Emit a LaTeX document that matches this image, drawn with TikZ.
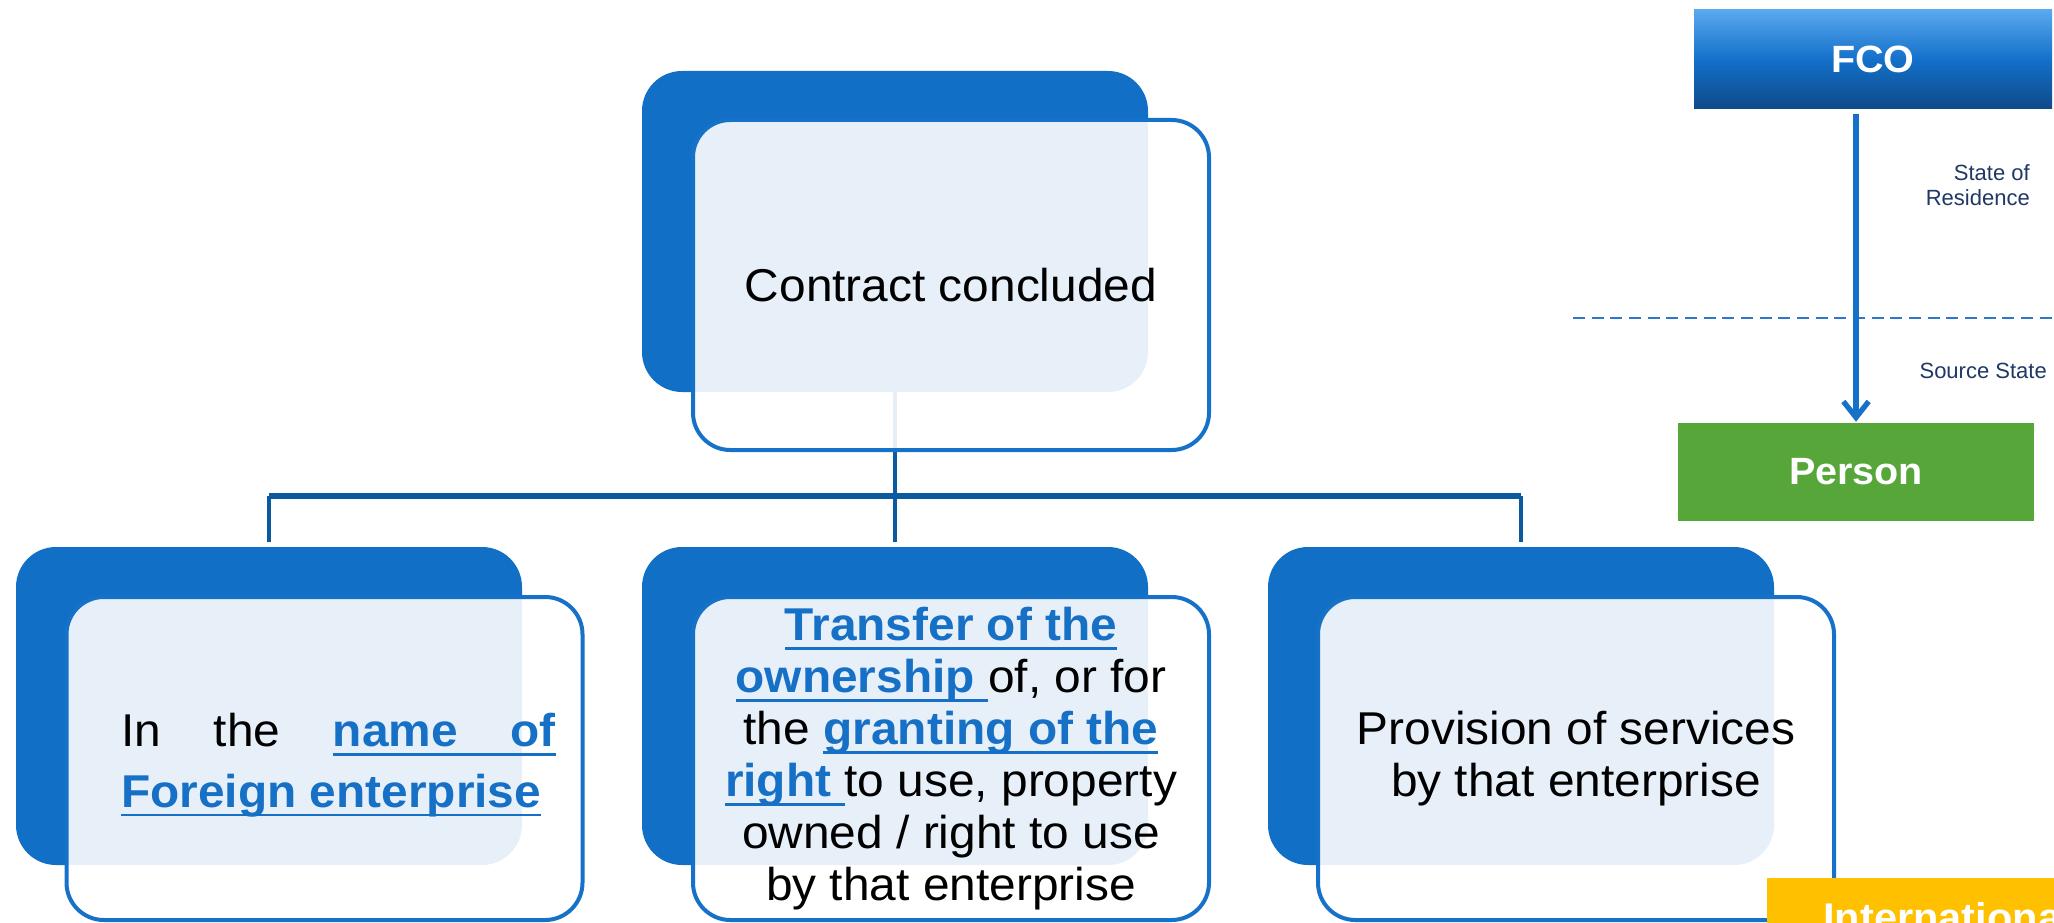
\documentclass[tikz,border=0pt]{standalone}
\usepackage{fontspec}
\setmainfont{Liberation Sans}[FakeStretch=1.04]
\newfontfamily\plainsans{Liberation Sans}
\usetikzlibrary{arrows.meta}

\definecolor{boxblue}{HTML}{1170C5}
\definecolor{lineblue}{HTML}{1672C8}
\definecolor{conblue}{HTML}{0B5A9F}
\definecolor{lnkblue}{HTML}{1670C5}
\definecolor{fcotop}{HTML}{5AA9EE}
\definecolor{fcomid}{HTML}{1370CA}
\definecolor{fcobot}{HTML}{0E4A88}
\definecolor{persongreen}{HTML}{56A63A}
\definecolor{intlyellow}{HTML}{FFC000}
\definecolor{labelnavy}{HTML}{203864}
\definecolor{dashblue}{HTML}{2F78C8}

% bold blue underlined words
\newcommand{\lnk}[1]{{\color{lnkblue}\bfseries\sbox0{#1}\rlap{\rule[-0.2em]{\wd0}{0.065em}}\usebox0}}

\tikzset{
  backbox/.style={fill=boxblue, rounded corners=30pt, minimum width=379.5pt, minimum height=238.5pt, inner sep=0pt},
  frontbox/.style={draw=lineblue, line width=3pt, fill=white, fill opacity=0.9, text opacity=1, rounded corners=28pt,
    minimum width=387pt, minimum height=242.25pt, inner sep=0pt, align=center, font=\fontsize{34.5}{39}\selectfont},
  conn/.style={draw=conblue, line width=3pt},
  headbox/.style={minimum width=268.5pt, minimum height=74.25pt, inner sep=0pt, text=white, font=\bfseries\fontsize{28.5}{34}\selectfont},
  statelabel/.style={inner sep=0pt, text=labelnavy, font=\plainsans\fontsize{16.5}{19.2}\selectfont},
}

\begin{document}
\begin{tikzpicture}[x=0.75pt,y=0.75pt,yscale=-1]
    \useasboundingbox (0,0) rectangle (2054,923);
    \clip (0,0) rectangle (2054,923);
    \fill[white] (0,0) rectangle (2054,923);

    %Shape: back boxes
    \node[backbox, minimum height=240.75pt] (topback) at (895,231.5) {};
    \node[backbox] (leftback) at (269,706) {};
    \node[backbox] (midback) at (895,706) {};
    \node[backbox] (rightback) at (1521,706) {};

    %Shape: connectors
    \coordinate (bus) at (895,496);
    \draw[conn] (topback.south) -- (bus);
    \draw[conn, line width=4.5pt] (leftback.north |- bus) -- (rightback.north |- bus);
    \foreach \n in {leftback,midback,rightback}
        \draw[conn] (\n.north |- bus) -- ++(0,46);

    %Shape: front boxes
    \node[frontbox, minimum height=247.5pt] (top) at (951,285) {Contract concluded};
    \node[frontbox, align=left] (left) at (324.5,758.5)
        {\rule{0pt}{35pt}\hspace*{21pt}\hbox to 326pt{In\hfill the\hfill\lnk{name}{\color{lnkblue}\leaders\hrule height -0.135em depth 0.2em\hfill}\lnk{of}}\\[6.5pt]\hspace*{21pt}\lnk{Foreign enterprise}};
    \node[frontbox] (mid) at (951,758.5)
        {\lnk{Transfer of the}\\ \lnk{ownership }of, or for\\ the \lnk{granting of the}\\ \lnk{right }to use, property\\ owned / right to use\\ by that enterprise};
    \node[frontbox] (right) at (1576,758.5) {Provision of services\\ by that enterprise};

    %Shape: states
    \node[headbox, top color=fcotop, bottom color=fcobot, middle color=fcomid] (fco) at (1873,59.5) {FCO};
    \node[headbox, fill=persongreen, minimum width=267pt, minimum height=73pt] (person) at (1856,472) {Person};
    \draw[draw=dashblue, line width=1.5pt, dash pattern=on 9pt off 5pt] (1573,318) coordinate (dashL) -- (2054,318) coordinate (dashR);
    \draw[draw=lineblue, line width=4pt, shorten <=3.5pt, shorten >=1pt, -{Straight Barb[length=12pt,width=19pt]}] (person.north |- fco.south) -- (person.north);

    % Text Node
    \node[statelabel, anchor=north east, align=right] (residence) at (2030,164) {State of\\Residence};
    % Text Node
    \node[statelabel, anchor=base east] (source) at (2047,378) {Source State};

    %Shape: yellow box
    \node[anchor=north west, fill=intlyellow, text=white, inner xsep=42pt, inner ysep=18pt, text width=300pt, align=left,
        font=\bfseries\fontsize{30}{36}\selectfont] (intl) at (1767,878) {International};
\end{tikzpicture}
\end{document}
